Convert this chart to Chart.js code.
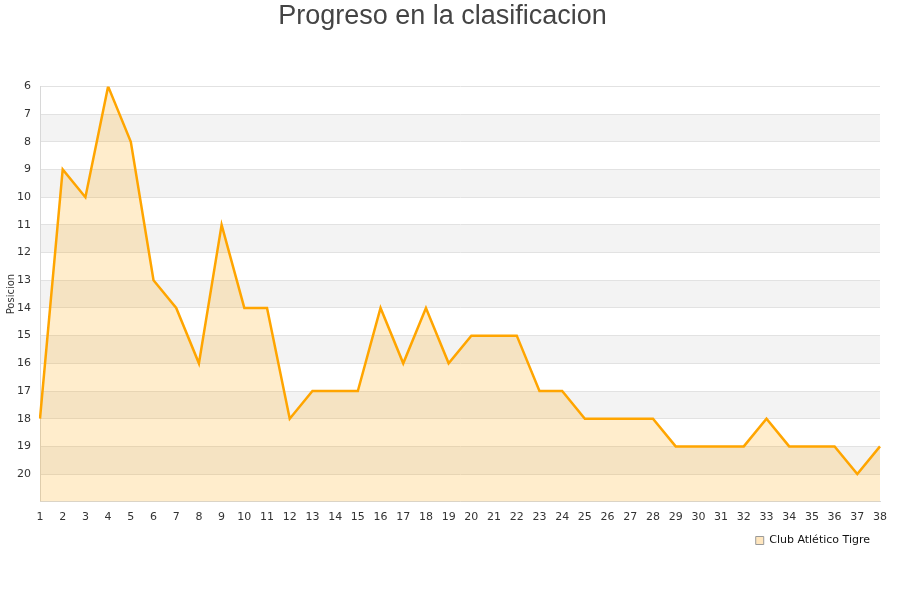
<!DOCTYPE html>
<html>
<head>
<meta charset="utf-8">
<script src="https://cdn.jsdelivr.net/npm/chart.js@4"></script>
<style>
  html, body { margin: 0; padding: 0; background: #fff; }
  #wrap { width: 900px; height: 600px; }
</style>
</head>
<body>
<div id="wrap"><canvas id="posChart" width="900" height="600"></canvas></div>
<script>
// Jornadas and posiciones
const jornadas = Array.from({ length: 38 }, (_, i) => String(i + 1));
const posiciones = [18, 9, 10, 6, 8, 13, 14, 16, 11, 14, 14, 18, 17, 17, 17, 14, 16, 14, 16, 15,
                    15, 15, 17, 17, 18, 18, 18, 18, 19, 19, 19, 19, 18, 19, 19, 19, 20, 19];
const equipo = 'Club Atlético Tigre';

// alternating grey bands behind the grid
const bandPlugin = {
    id: 'bands',
    beforeDraw(chart) {
        const { ctx, chartArea, scales } = chart;
        const y = scales.y;
        ctx.save();
        ctx.fillStyle = '#f3f3f3';
        for (let v = 7; v < 21; v += 2) {
            const top = y.getPixelForValue(v);
            const bot = y.getPixelForValue(v + 1);
            ctx.fillRect(chartArea.left, top, chartArea.right - chartArea.left, bot - top);
        }
        ctx.restore();
    }
};

const ctx = document.getElementById('posChart').getContext('2d');
new Chart(ctx, {
    type: 'line',
    data: {
        labels: jornadas,
        datasets: [{
            label: equipo,
            data: posiciones,
            borderColor: '#ffa500',
            backgroundColor: 'rgba(255,165,0,0.2)',
            borderWidth: 2.5,
            pointRadius: 0,
            tension: 0,
            fill: { value: 21 }
        }]
    },
    options: {
        responsive: false,
        animation: false,
        layout: { padding: { left: 5, right: 20, top: 0, bottom: 44 } },
        plugins: {
            title: {
                display: true,
                text: 'Progreso en la clasificacion',
                color: '#444',
                font: { family: 'Liberation Sans', size: 27, weight: 'normal' },
                padding: { top: 0, bottom: 54 }
            },
            legend: {
                position: 'bottom',
                align: 'end',
                labels: {
                    boxWidth: 8,
                    boxHeight: 8,
                    color: '#111',
                    font: { family: 'DejaVu Sans', size: 11 },
                    padding: 10,
                    generateLabels: chart => chart.data.datasets.map((ds, i) => ({
                        text: ds.label,
                        fillStyle: 'rgba(255,200,110,0.45)',
                        strokeStyle: '#999',
                        lineWidth: 1,
                        fontColor: '#111',
                        datasetIndex: i
                    }))
                }
            },
            tooltip: { enabled: false }
        },
        scales: {
            x: {
                offset: false,
                grid: { display: false },
                border: { color: '#d8d8d8' },
                ticks: { color: '#333', font: { family: 'DejaVu Sans', size: 11 }, maxRotation: 0, autoSkip: false, padding: 1 }
            },
            y: {
                reverse: true,
                min: 6,
                max: 21,
                afterFit: s => { s.width = 35; },
                grid: { color: '#e2e2e2', drawTicks: false },
                border: { color: '#d8d8d8' },
                ticks: {
                    stepSize: 1,
                    color: '#333',
                    font: { family: 'DejaVu Sans', size: 11 },
                    padding: 9,
                    callback: v => (v === 21 ? '' : v)
                },
                title: {
                    display: true,
                    text: 'Posicion',
                    color: '#333',
                    font: { family: 'DejaVu Sans', size: 10 },
                    padding: 0
                }
            }
        }
    },
    plugins: [bandPlugin]
});
</script>
</body>
</html>
